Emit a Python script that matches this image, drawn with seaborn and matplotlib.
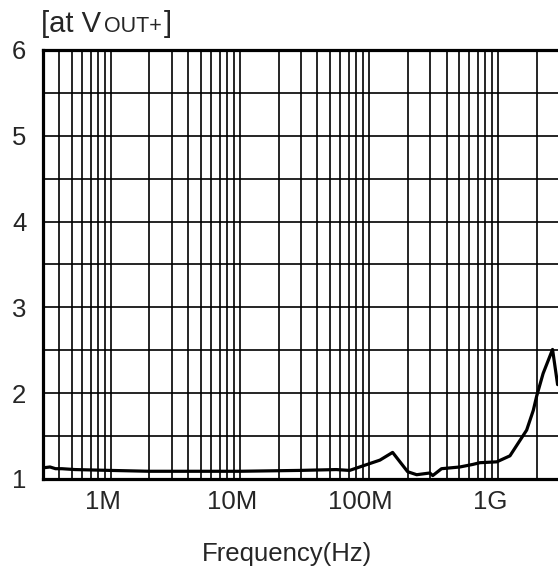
import matplotlib
matplotlib.use("Agg")
import matplotlib.pyplot as plt
import matplotlib.transforms as mtransforms
from matplotlib.ticker import LogLocator, NullFormatter, FixedLocator
import seaborn as sns
import pandas as pd

# data
freq_hz = [
    3.0e5, 3.4e5, 3.75e5, 4.2e5, 5.3e5, 1.0e6, 2.0e6, 1.0e7, 2.9e7, 5.6e7,
    7.1e7, 8.5e7, 1.22e8, 1.53e8, 2.0e8, 2.35e8, 2.97e8, 3.13e8, 3.66e8,
    5.07e8, 6.4e8, 7.25e8, 9.8e8, 1.24e9, 1.67e9, 1.88e9, 2.0e9, 2.24e9,
    2.65e9, 2.9e9,
]
impedance = [
    1.13, 1.14, 1.12, 1.12, 1.11, 1.10, 1.09, 1.09, 1.10, 1.11,
    1.10, 1.14, 1.22, 1.31, 1.085, 1.05, 1.07, 1.04, 1.12,
    1.14, 1.17, 1.19, 1.20, 1.27, 1.57, 1.80, 1.97, 2.23,
    2.51, 2.10,
]
x_ticks = [1e6, 1e7, 1e8, 1e9]
x_tick_labels = ["1M", "10M", "100M", "1G"]
y_ticks = [1, 2, 3, 4, 5, 6]

df = pd.DataFrame({"freq": freq_hz, "value": impedance})

sns.set_style("white")
plt.rcParams["font.family"] = ["Liberation Sans", "DejaVu Sans"]

W, H = 558, 568
fig = plt.figure(figsize=(W / 100, H / 100), dpi=100)
ax = fig.add_axes([43 / W, (H - 479) / H, 516.5 / W, 429 / H])

sns.lineplot(data=df, x="freq", y="value", ax=ax, color="black", lw=2.3)

ax.set_xscale("log")
ax.set_xlim(3e5, 3e9)
ax.set_ylim(1, 6)

ax.xaxis.set_major_locator(FixedLocator(x_ticks))
ax.set_xticklabels(x_tick_labels)
ax.xaxis.set_minor_locator(LogLocator(base=10, subs=range(2, 10), numticks=20))
ax.xaxis.set_minor_formatter(NullFormatter())
ax.set_yticks(y_ticks)
ax.yaxis.set_minor_locator(FixedLocator([1.5, 2.5, 3.5, 4.5, 5.5]))

ax.grid(which="both", color="black", lw=1.2)
ax.tick_params(which="both", length=0, labelsize=18.5)
ax.tick_params(axis="x", pad=8)
ax.tick_params(axis="y", pad=12)
ax.set_xlabel("")
ax.set_ylabel("")

# labels sit a bit left of their grid lines in the original
shift = mtransforms.ScaledTranslation(-0.08, 0, fig.dpi_scale_trans)
for lab in ax.get_xticklabels():
    lab.set_transform(lab.get_transform() + shift)

for side in ["left", "top", "bottom"]:
    ax.spines[side].set_linewidth(2.3)
    ax.spines[side].set_color("black")
ax.spines["right"].set_visible(False)

fig.text(287.5 / W, 1 - 561 / H, "Frequency(Hz)", ha="center", va="baseline", fontsize=18.5)

# title with small-caps part
fig.text(41 / W, 1 - 32 / H, "[at V", ha="left", va="baseline", fontsize=21)
fig.text(104 / W, 1 - 32 / H, "OUT+", ha="left", va="baseline", fontsize=15.5)
fig.text(164 / W, 1 - 32 / H, "]", ha="left", va="baseline", fontsize=21)

fig.savefig("out.png", dpi=100)
